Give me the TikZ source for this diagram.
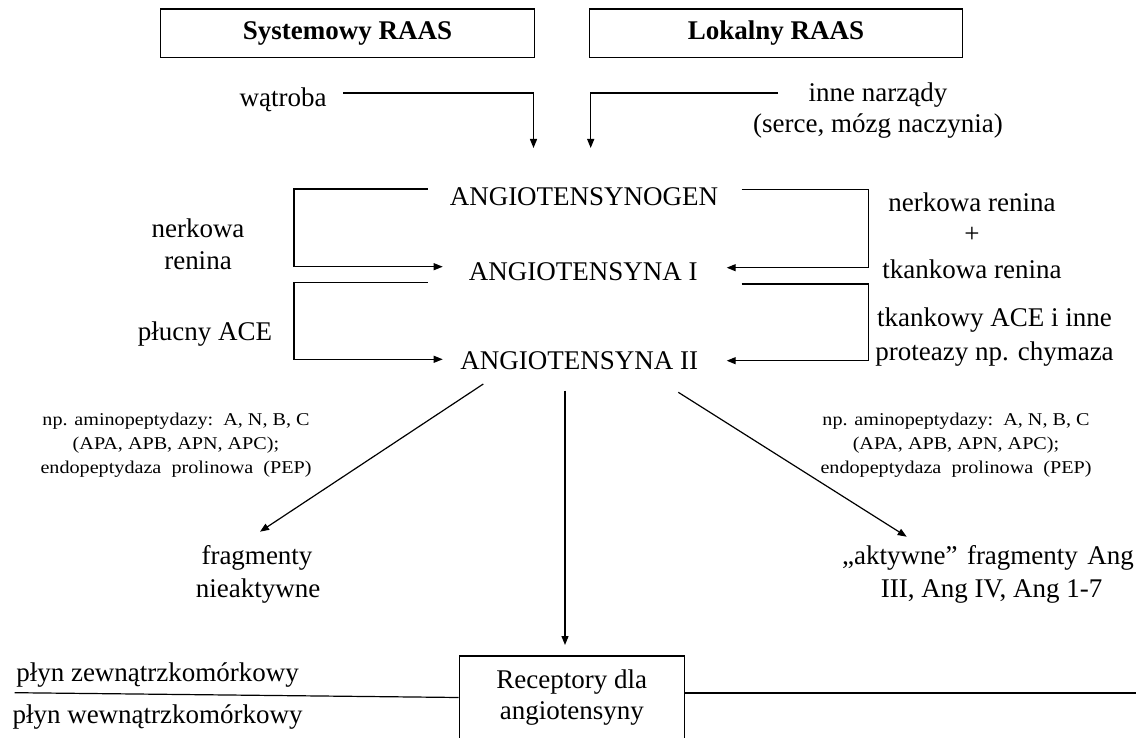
\documentclass[tikz,border=0pt]{standalone}
\usepackage{fontspec}
\setmainfont{Liberation Serif}
\newfontfamily\smallserif[FakeStretch=1.12]{Liberation Serif}
\usetikzlibrary{arrows.meta}
\begin{document}
\begin{tikzpicture}[x=1pt,y=-1pt,
  txt/.style={font=\fontsize{27}{31}\selectfont, inner sep=0pt, anchor=base},
  sml/.style={font=\smallserif\fontsize{18}{24}\selectfont, inner sep=0pt, anchor=base},
  hdr/.style={draw, line width=1.3pt, minimum width=373.6pt, minimum height=48.3pt, inner sep=0pt,
    font=\fontsize{27}{31}\selectfont\bfseries},
  recbox/.style={draw, line width=1.2pt, minimum width=225pt, minimum height=83pt, inner sep=0pt,
    align=center, font=\fontsize{27}{31}\selectfont},
  ln/.style={line width=1.2pt, draw=black},
  arr/.style={ln, -{Triangle[length=9pt,width=7pt]}}]
\fill[white] (0,0) rectangle (1144,738);
\useasboundingbox (0,0) rectangle (1144,738);

% headers
\node[hdr] (sys) at (347.5,33.2) {Systemowy RAAS};
\node[hdr] (lok) at (776,33.2) {Lokalny RAAS};

% sources
\node[txt] (watr) at (283,106.7) {wątroba};
\node[txt] (inne1) at (878,101.7) {inne narządy};
\node[txt] (inne2) at (878,133) {(serce, mózg naczynia)};

% main chain
\node[txt] (ag) at (584,206) {ANGIOTENSYNOGEN};
\node[txt] (a1) at (583.3,281) {ANGIOTENSYNA I};
\node[txt] (a2) at (579.3,369.3) {ANGIOTENSYNA II};

% enzyme labels
\node[txt] (nr1) at (198,237.7) {nerkowa};
\node[txt] (nr2) at (198,270) {renina};
\node[txt] (pace) at (205,340) {płucny ACE};
\node[txt] (rr1) at (972,211.7) {nerkowa renina};
\node[txt] (plus) at (972,243) {+};
\node[txt] (rr2) at (972,278.3) {tkankowa renina};
\node[txt] (tace1) at (994.5,326.7) {tkankowy ACE i inne};
\node[txt] (tace2) at (994.5,360) {proteazy np. chymaza};

% small labels
\node[sml] (sl1) at (176,425) {np. aminopeptydazy:\ \ A, N, B, C};
\node[sml] (sl2) at (176,449) {(APA, APB, APN, APC);};
\node[sml] (sl3) at (176,473) {endopeptydaza\ \ prolinowa\ \ (PEP)};
\node[sml] (sr1) at (956,425) {np. aminopeptydazy:\ \ A, N, B, C};
\node[sml] (sr2) at (956,449) {(APA, APB, APN, APC);};
\node[sml] (sr3) at (956,473) {endopeptydaza\ \ prolinowa\ \ (PEP)};

% products
\node[txt] (fr1) at (257,564) {fragmenty};
\node[txt] (fr2) at (258,597) {nieaktywne};
\node[txt] (ak1) at (988,564) {„aktywne”\hspace{.35em}fragmenty\hspace{.35em}Ang};
\node[txt] (ak2) at (991.7,597) {III, Ang IV, Ang 1-7};

% membrane
\node[txt] (pz) at (157.6,681) {płyn zewnątrzkomórkowy};
\node[txt] (pw) at (157.6,723) {płyn wewnątrzkomórkowy};
\node[recbox] (rec) at (571.8,697.5) {Receptory dla\\angiotensyny};

% coordinates
\coordinate (w1) at (343,93);
\coordinate (w3) at (533.5,148);
\coordinate (n1) at (778,93);
\coordinate (n3) at (590.7,148);
\coordinate (lb1) at (427.7,189);
\coordinate (lt1) at (442.7,266.7);
\coordinate (lb2) at (427.7,282.3);
\coordinate (lt2) at (442.7,359.3);
\coordinate (rb1) at (741.7,189.3);
\coordinate (rt1) at (726.7,267.7);
\coordinate (rb2) at (741.7,284);
\coordinate (rt2) at (726.7,360.7);
\coordinate (dl1) at (483.3,384);
\coordinate (dl2) at (260,531.7);
\coordinate (v1) at (565,390.7);
\coordinate (v2) at (565,645);
\coordinate (dr1) at (678.3,392.3);
\coordinate (dr2) at (906.7,536.7);
\coordinate (ml) at (14.7,692.7);
\coordinate (mr) at (1136,693);

% connectors
\draw[arr] (w1) -| (w3);
\draw[arr] (n1) -| (n3);
\draw[arr] (lb1) -- (294,189) -- (294,266.7) -- (lt1);
\draw[arr] (lb2) -- (294,282.3) -- (294,359.3) -- (lt2);
\draw[arr] (rb1) -- (868.3,189.3) -- (868.3,267.7) -- (rt1);
\draw[arr] (rb2) -- (868.3,284) -- (868.3,360.7) -- (rt2);
\draw[arr] (dl1) -- (dl2);
\draw[arr] (v1) -- (v2);
\draw[arr] (dr1) -- (dr2);
\draw[ln] (ml) -- (rec.west);
\draw[ln] ([yshift=4.5pt]rec.east) -- (mr);
\end{tikzpicture}
\end{document}
